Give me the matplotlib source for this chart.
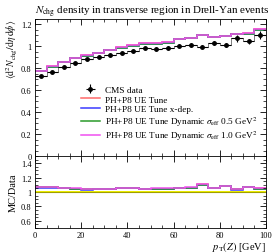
import numpy as np
import matplotlib
matplotlib.use("Agg")
import matplotlib.pyplot as plt
from matplotlib.ticker import MultipleLocator

plt.rcParams['font.family'] = ['Liberation Serif', 'DejaVu Serif']
plt.rcParams['mathtext.fontset'] = 'stix'

edges = np.arange(0, 105, 5)
data = [0.725, 0.764, 0.806, 0.848, 0.882, 0.897, 0.921, 0.934, 0.952, 0.979,
        0.976, 0.985, 1.003, 1.009, 0.994, 1.027, 1.009, 1.070, 1.043, 1.097]
data_err = [0.006, 0.006, 0.006, 0.006, 0.007, 0.007, 0.008, 0.008, 0.009, 0.010,
            0.011, 0.012, 0.013, 0.014, 0.015, 0.017, 0.018, 0.030, 0.022, 0.035]
band_rel = [0.02] * 20

mc_tune = [0.773, 0.814, 0.853, 0.889, 0.914, 0.938, 0.962, 0.987, 1.005, 1.023,
           1.023, 1.032, 1.062, 1.071, 1.098, 1.083, 1.089, 1.108, 1.114, 1.152]
mc_xdep = [0.769, 0.811, 0.851, 0.887, 0.912, 0.936, 0.960, 0.985, 1.003, 1.021,
           1.021, 1.030, 1.060, 1.069, 1.096, 1.081, 1.087, 1.106, 1.112, 1.149]
mc_dyn05 = [0.771, 0.812, 0.852, 0.888, 0.913, 0.937, 0.961, 0.986, 1.004, 1.022,
            1.022, 1.031, 1.061, 1.070, 1.097, 1.082, 1.088, 1.107, 1.113, 1.150]
mc_dyn10 = [0.776, 0.816, 0.855, 0.891, 0.916, 0.939, 0.964, 0.988, 1.006, 1.025,
            1.025, 1.034, 1.064, 1.073, 1.100, 1.085, 1.091, 1.109, 1.116, 1.155]

labels = ["PH+P8 UE Tune", "PH+P8 UE Tune x-dep.",
          r"PH+P8 UE Tune Dynamic $\sigma_{\rm eff}$ 0.5 GeV$^2$",
          r"PH+P8 UE Tune Dynamic $\sigma_{\rm eff}$ 1.0 GeV$^2$"]
colors = ["#ff6a6a", "#3a3aff", "#2a9a2a", "#f050f0"]
series = [mc_tune, mc_xdep, mc_dyn05, mc_dyn10]

fig = plt.figure(figsize=(2.8, 2.53), dpi=100)
ax = fig.add_axes([0.125, 0.3794, 0.825, 0.5435])
rax = fig.add_axes([0.125, 0.0949, 0.825, 0.2846])

centers = 0.5 * (edges[:-1] + edges[1:])
data = np.array(data)
data_err = np.array(data_err)

def step(a, vals, **kw):
    v = np.asarray(vals)
    return a.stairs(v, edges, baseline=None, **kw)

for s, c, lab in zip(series, colors, labels):
    step(ax, s, color=c, lw=1.1, label=lab)

ax.errorbar(centers, data, yerr=data_err, xerr=2.5, fmt='o', color='black',
            ms=2.5, lw=0.8, capsize=0, label='CMS data', zorder=5)
step(ax, data, color='black', lw=0.6, alpha=0.6)

ax.set_xlim(0, 100)
ax.set_ylim(0, 1.25)
ax.xaxis.set_major_locator(MultipleLocator(20))
ax.xaxis.set_minor_locator(MultipleLocator(5))
ax.yaxis.set_minor_locator(MultipleLocator(0.05))
ax.set_yticks([0, 0.2, 0.4, 0.6, 0.8, 1.0, 1.2])
ax.set_yticklabels(['0', '0.2', '0.4', '0.6', '0.8', '1', '1.2'])
ax.tick_params(labelbottom=False)
ax.set_ylabel(r"$\langle\mathrm{d}^2 N_{\mathrm{chg}}/\mathrm{d}\eta\,\mathrm{d}\phi\rangle$",
              fontsize=7, loc='top')
ax.set_title(r"$N_{\mathrm{chg}}$ density in transverse region in Drell-Yan events",
             fontsize=7.9, loc='left', pad=3)

handles, labs = ax.get_legend_handles_labels()
order = [4, 0, 1, 2, 3]
ax.legend([handles[i] for i in order], [labs[i] for i in order],
          loc='upper left', bbox_to_anchor=(0.199, 0.513), frameon=False,
          fontsize=6.7, handlelength=2.0, labelspacing=0.12, borderpad=0,
          borderaxespad=0, handletextpad=0.6)

rel = np.array(band_rel)
rax.stairs(1 + rel, edges, baseline=1 - rel, fill=True, color='#f0f000', lw=0)
rax.axhline(1.0, color='#a0a000', lw=0.8)
for s, c in zip(series, colors):
    step(rax, np.array(s) / data, color=c, lw=1.1)

rax.set_xlim(0, 100)
rax.set_ylim(0.5, 1.5)
rax.xaxis.set_major_locator(MultipleLocator(20))
rax.xaxis.set_minor_locator(MultipleLocator(5))
rax.set_yticks([0.6, 0.8, 1.0, 1.2, 1.4])
rax.set_yticklabels(['0.6', '0.8', '1', '1.2', '1.4'])
rax.yaxis.set_minor_locator(MultipleLocator(0.05))
rax.set_ylabel("MC/Data", fontsize=7.5)
rax.set_xlabel(r"$p_{\mathrm{T}}(Z)$ [GeV]", fontsize=7.5, loc='right', labelpad=0)

for a in (ax, rax):
    a.tick_params(which='both', direction='in', top=True, right=True, labelsize=6, pad=2.5)
    a.tick_params(which='major', length=4, width=0.6)
    a.tick_params(which='minor', length=2, width=0.5)
    for sp in a.spines.values():
        sp.set_linewidth(0.6)

ax.yaxis.set_label_coords(-0.07, 1.0)
rax.yaxis.set_label_coords(-0.075, 0.5)

fig.savefig("out.png", dpi=100)
